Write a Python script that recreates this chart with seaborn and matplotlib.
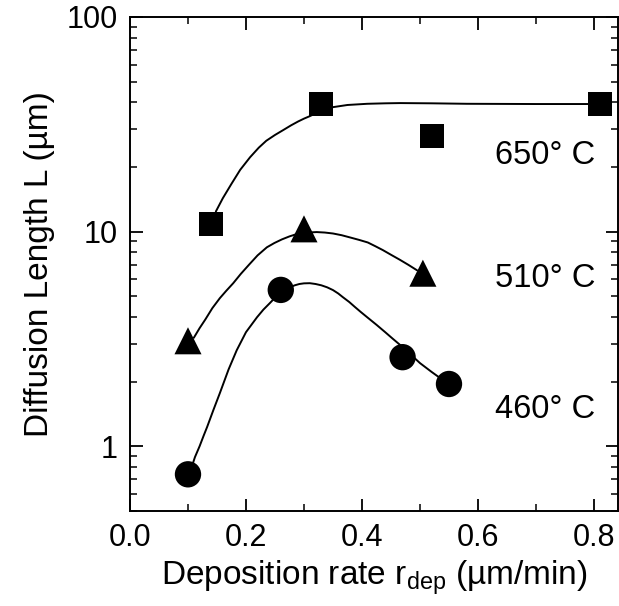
import numpy as np
import pandas as pd
import seaborn as sns
import matplotlib.pyplot as plt
from matplotlib.ticker import MultipleLocator, LogLocator, NullFormatter

# measured points
rate_650 = [0.14, 0.33, 0.52, 0.81]
L_650 = [10.8, 39.5, 27.8, 39.5]
rate_510 = [0.10, 0.30, 0.505]
L_510 = [3.1, 10.3, 6.4]
rate_460 = [0.10, 0.26, 0.47, 0.55]
L_460 = [0.74, 5.35, 2.6, 1.95]

# guide-to-the-eye curves
curve_x_650 = [0.148, 0.160, 0.175, 0.190, 0.207, 0.222, 0.235, 0.250, 0.264, 0.278, 0.29, 0.300, 0.310, 0.328, 0.347, 0.375, 0.409, 0.440, 0.466, 0.52, 0.581, 0.70, 0.81]
curve_y_650 = [12.4, 14.3, 16.7, 19.4, 22.2, 24.6, 26.5, 28.2, 29.7, 31.3, 32.6, 33.6, 34.5, 36.4, 37.9, 38.9, 39.4, 39.6, 39.7, 39.6, 39.4, 39.3, 39.3]
curve_x_510 = [0.110, 0.120, 0.130, 0.142, 0.155, 0.166, 0.178, 0.191, 0.205, 0.220, 0.236, 0.249, 0.262, 0.275, 0.288, 0.305, 0.322, 0.336, 0.350, 0.365, 0.379, 0.395, 0.410, 0.423, 0.436, 0.450, 0.465, 0.480, 0.495]
curve_y_510 = [3.2, 3.55, 3.9, 4.4, 4.9, 5.3, 5.75, 6.35, 7.0, 7.75, 8.45, 8.85, 9.2, 9.5, 9.75, 9.9, 9.95, 9.9, 9.8, 9.62, 9.4, 9.15, 8.9, 8.55, 8.2, 7.8, 7.4, 7.0, 6.6]
curve_x_460 = [0.105, 0.112, 0.120, 0.127, 0.133, 0.144, 0.155, 0.170, 0.184, 0.200, 0.219, 0.230, 0.241, 0.250, 0.260, 0.268, 0.276, 0.284, 0.292, 0.300, 0.310, 0.320, 0.330, 0.340, 0.350, 0.359, 0.367, 0.378, 0.388, 0.398, 0.409, 0.425, 0.440, 0.453, 0.466, 0.483, 0.50, 0.52, 0.54]
curve_y_460 = [0.78, 0.89, 1.0, 1.12, 1.23, 1.48, 1.77, 2.28, 2.80, 3.40, 3.99, 4.33, 4.64, 4.92, 5.15, 5.35, 5.51, 5.62, 5.70, 5.74, 5.75, 5.70, 5.62, 5.50, 5.34, 5.15, 4.95, 4.70, 4.45, 4.22, 3.99, 3.68, 3.40, 3.17, 2.96, 2.69, 2.44, 2.22, 2.03]

labels = ["650° C", "510° C", "460° C"]
label_y = [22.7, 6.07, 1.49]

sns.set_style("ticks")
plt.rcParams['font.family'] = ['Liberation Sans', 'DejaVu Sans']
plt.rcParams['mathtext.fontset'] = 'custom'
plt.rcParams['mathtext.rm'] = 'Liberation Sans'
plt.rcParams['mathtext.it'] = 'Liberation Sans'
plt.rcParams['text.color'] = 'black'
plt.rcParams['axes.labelcolor'] = 'black'

fig = plt.figure(figsize=(6.19, 6.06), dpi=100)
ax = fig.add_axes([0.210, 0.157, 0.788, 0.815])

for cx, cy in [(curve_x_650, curve_y_650), (curve_x_510, curve_y_510), (curve_x_460, curve_y_460)]:
    d = pd.DataFrame({"x": cx, "y": cy})
    sns.lineplot(x="x", y="y", data=d, sort=False, color="black", linewidth=1.4, ax=ax)

sns.scatterplot(x=rate_650, y=L_650, marker="s", s=300, color="black", edgecolor="none", ax=ax, zorder=3)
sns.scatterplot(x=rate_510, y=L_510, marker="^", s=380, color="black", edgecolor="none", ax=ax, zorder=3)
sns.scatterplot(x=rate_460, y=L_460, marker="o", s=360, color="black", edgecolor="none", ax=ax, zorder=3)

ax.set_yscale("log")
ax.set_xlim(0, 0.841)
ax.set_ylim(0.5, 100)

ax.set_xticks([0.0, 0.2, 0.4, 0.6, 0.8])
ax.set_xticklabels(["0.0", "0.2", "0.4", "0.6", "0.8"])
ax.xaxis.set_minor_locator(MultipleLocator(0.1))
ax.set_yticks([1, 10, 100])
ax.set_yticklabels(["1", "10", "100"])
ax.yaxis.set_minor_locator(LogLocator(base=10, subs=np.arange(2, 10)))
ax.yaxis.set_minor_formatter(NullFormatter())

ax.tick_params(which="major", direction="in", length=9, width=1.3, labelsize=22, pad=9,
               top=True, right=True, colors="black")
ax.tick_params(which="minor", direction="in", length=5, width=1.1, top=True, right=True, colors="black")
for s in ax.spines.values():
    s.set_linewidth(1.4)
    s.set_color("black")

for txt, yy in zip(labels, label_y):
    ax.text(0.63, yy, txt, fontsize=23.5, ha="left", va="center", color="black")

ax.set_xlabel(r"Deposition rate r$_{\mathrm{dep}}$ (µm/min)", fontsize=24, labelpad=4, color="black")
ax.set_ylabel("Diffusion Length L (µm)", fontsize=24, labelpad=8, color="black")

fig.savefig("out.png", dpi=100)
